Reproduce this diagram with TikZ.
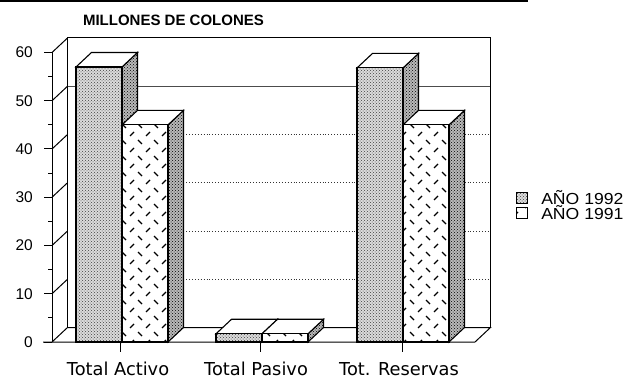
\documentclass[tikz,border=0pt]{standalone}
\usepackage{fontspec}
\setmainfont{Liberation Sans}
\newfontfamily\catfont{DejaVu Sans}
\newfontfamily\legfont[FakeStretch=1.1]{Liberation Sans}
\usepackage{tikz}
\usetikzlibrary{patterns,positioning}

% short dashes for the 1991 bars
\pgfdeclarepatternformonly{dashmarks}{\pgfpoint{-1pt}{-1pt}}{\pgfpoint{17pt}{17pt}}{\pgfpoint{16pt}{16pt}}{%
  \pgfsetlinewidth{1.3pt}
  \pgfpathmoveto{\pgfpoint{2pt}{2pt}}\pgfpathlineto{\pgfpoint{6pt}{6pt}}
  \pgfpathmoveto{\pgfpoint{10pt}{14pt}}\pgfpathlineto{\pgfpoint{14pt}{10pt}}
  \pgfusepath{stroke}}

\tikzset{
  wall/.style={line width=1pt},
  gridsolid/.style={line width=0.8pt, black!70},
  griddot/.style={line width=0.9pt, dotted, black!80},
  front92/.style={draw, line width=1.1pt, preaction={fill=gray!28}, pattern=crosshatch dots, pattern color=black!75},
  front91/.style={draw, line width=1.1pt, preaction={fill=white}, pattern=dashmarks},
  sideface/.style={draw, line width=1.1pt, preaction={fill=gray!55}, pattern=crosshatch dots},
  topface/.style={draw, line width=1.1pt, fill=white},
  catlabel/.style={font=\catfont\fontsize{17.8}{20}\selectfont, anchor=base, inner sep=0pt},
  ylabel/.style={font=\fontsize{15.5}{18}\selectfont, anchor=east, inner sep=0pt},
  legtext/.style={font=\legfont\fontsize{16}{19}\selectfont, inner sep=0pt},
  swatch/.style={line width=1pt, minimum width=11pt, minimum height=11pt, inner sep=0pt},
}

% bar: left, right, value, front style
\newcommand{\chartbar}[4]{%
  \pgfmathsetmacro{\bh}{36+#3*4.825}
  \path[sideface] (#2,36) -- (#2+15.5,50.5) -- (#2+15.5,\bh+14.5) -- (#2,\bh) -- cycle;
  \path[topface] (#1,\bh) -- (#1+15.5,\bh+14.5) -- (#2+15.5,\bh+14.5) -- (#2,\bh) -- cycle;
  \path[#4] (#1,36) rectangle (#2,\bh);
}

\begin{document}
\begin{tikzpicture}[x=1pt,y=1pt]
    \useasboundingbox (0,0) rectangle (635,378);
    \draw[line width=1.6pt] (0,376.8) -- (528,376.8);
    \node[font=\bfseries\fontsize{15}{18}\selectfont] (title) at (173.5,358) {MILLONES DE COLONES};

    % Back wall grid
    \draw[gridsolid] (67.5,291.75) -- (490.5,291.75);
    \foreach \v in {10,20,30,40}
        \draw[griddot] (76,36+\v*4.825+14.5) -- (490.5,36+\v*4.825+14.5);
    \draw[wall] (67.5,50.5) -- (67.5,340) -- (490.5,340) -- (490.5,50.5);

    % Side wall and y axis
    \draw[wall] (52,36) -- (52,325.5);
    \foreach \v in {0,10,...,60} {
        \draw[wall] (52,36+\v*4.825) -- ++(15.5,14.5);
        \draw[wall] (44,36+\v*4.825) -- (52,36+\v*4.825);
        \node[ylabel] (y\v) at (33,36+\v*4.825) {\v};
    }
    \foreach \v in {5,15,...,55}
        \draw[wall] (48,36+\v*4.825) -- (52,36+\v*4.825);

    % Floor
    \draw[wall] (67.5,50.5) -- (490.5,50.5) -- (475,36) -- (43,36);

    % Bars
    \chartbar{76}{122}{57}{front92}
    \chartbar{122}{168}{45}{front91}
    \chartbar{216}{262}{1.7}{front92}
    \chartbar{262}{308}{1.7}{front91}
    \chartbar{357}{403}{56.8}{front92}
    \chartbar{403}{449}{45}{front91}

    % Category axis
    \foreach \x in {120,260,402}
        \draw[wall] (\x,36) -- (\x,26);
    \node[catlabel] (activo) at (118,3) {Total Activo};
    \node[catlabel] (pasivo) at (256,3) {Total Pasivo};
    \node[catlabel] (reservas) at (399,3) {Tot. Reservas};

    % Legend
    \node[swatch, front92] (sw92) at (522,180.2) {};
    \node[swatch, front91] (sw91) at (522,165) {};
    \node[legtext, right=13pt of sw92] (leg92) {AÑO 1992};
    \node[legtext, right=13pt of sw91] (leg91) {AÑO 1991};
\end{tikzpicture}
\end{document}
